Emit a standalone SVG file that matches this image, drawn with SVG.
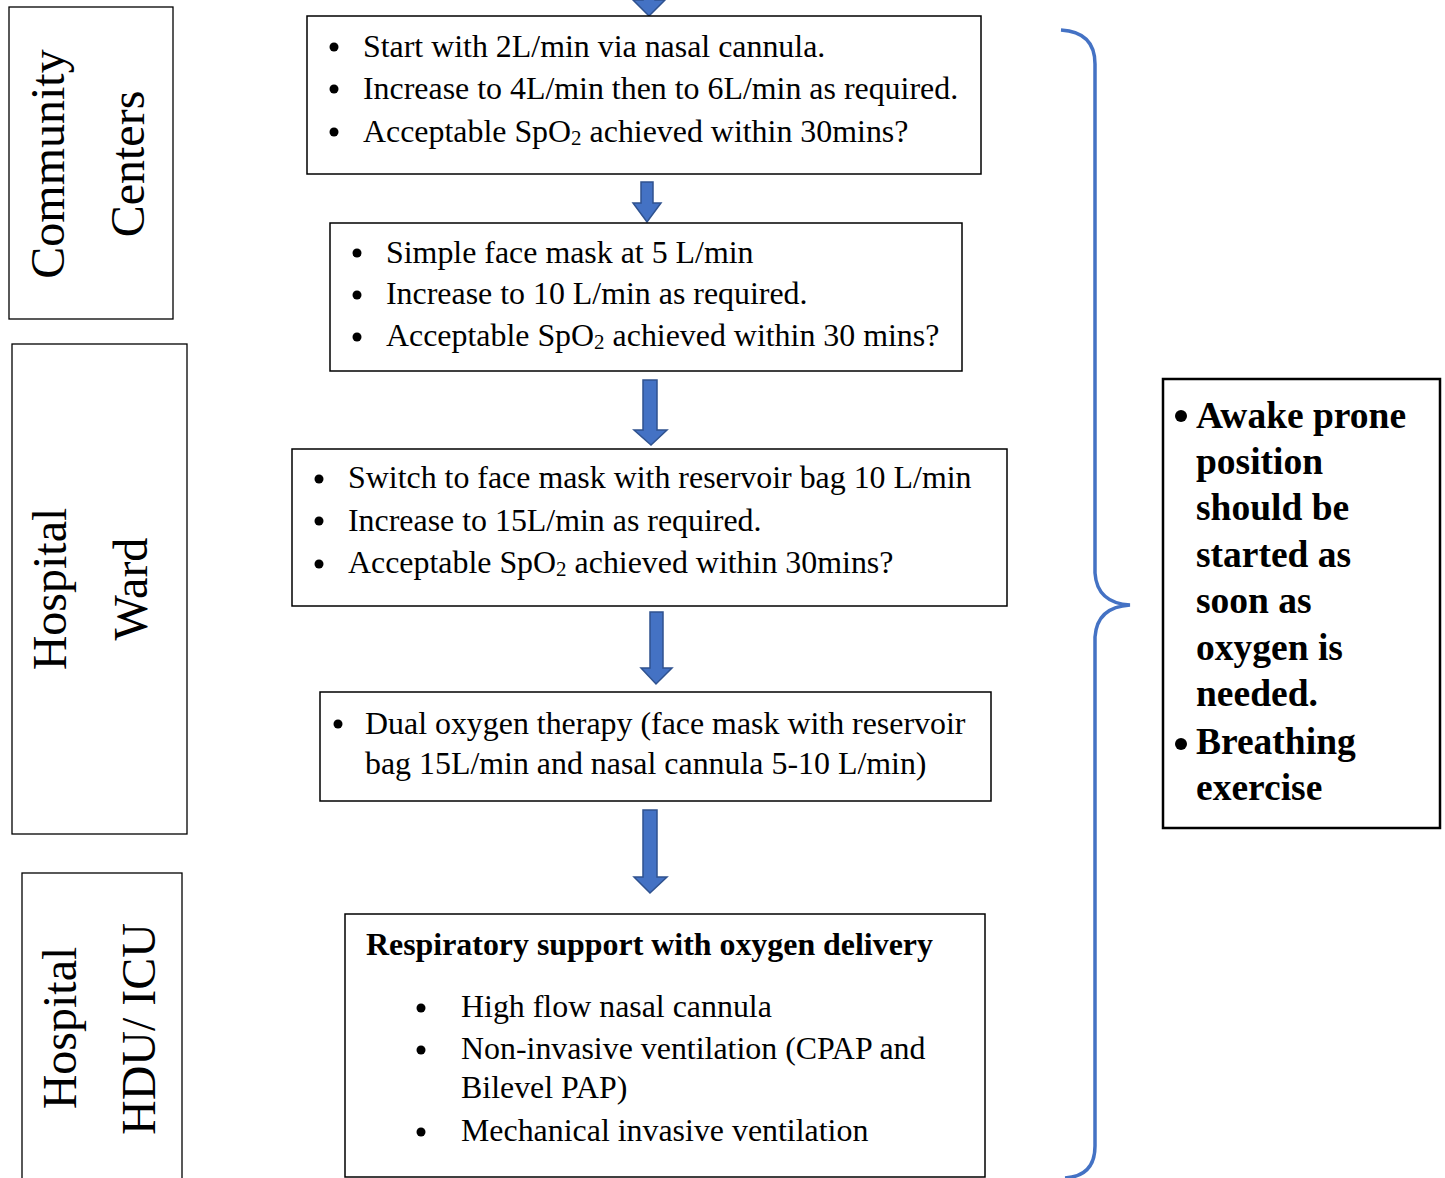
<svg xmlns="http://www.w3.org/2000/svg" width="1445" height="1178" viewBox="0 0 1445 1178">
<style>
.box{fill:#fff;stroke:#000;stroke-width:1.5}
.t{font-family:"Liberation Serif","Times New Roman",serif;font-size:31.9px;fill:#000}
.b{font-weight:bold}
.lab{font-family:"Liberation Serif","Times New Roman",serif;font-size:48px;fill:#000;text-anchor:middle}
.rt{font-family:"Liberation Serif","Times New Roman",serif;font-size:37.5px;font-weight:bold;fill:#000}
.arrow{fill:#4472C4;stroke:#2F528F;stroke-width:1.5}
.sub{font-size:21px}
</style>
<rect width="1445" height="1178" fill="#fff"/>

<g id="connectors">
  <polygon class="arrow" points="643,-20 655,-20 655,0 665,0 649,16 633,0 643,0"/>
  <polygon class="arrow" points="641,182 653,182 653,203 661,203 647,222 633,203 641,203"/>
  <polygon class="arrow" points="643,380 657,380 657,430 667,430 651,445 634,430 643,430"/>
  <polygon class="arrow" points="650,612 663,612 663,668 672,668 656,684 641,668 650,668"/>
  <polygon class="arrow" points="643,810 657,810 657,877 667,877 650,893 634,877 643,877"/>
  <path id="brace" d="M1061,30 Q1095,32 1095,64 L1095,573 Q1097,603 1130,605 Q1097,607 1095,637 L1095,1146 Q1095,1176 1065,1178" fill="none" stroke="#4472C4" stroke-width="3.5"/>
</g>

<g id="lane-community">
  <rect x="9" y="7" width="164" height="312" fill="#fff" stroke="#000" stroke-width="1.3"/>
  <text class="lab" transform="translate(64,164) rotate(-90)">Community</text>
  <text class="lab" transform="translate(144,164) rotate(-90)">Centers</text>
</g>

<g id="lane-ward">
  <rect x="12" y="344" width="175" height="490" fill="#fff" stroke="#000" stroke-width="1.3"/>
  <text class="lab" transform="translate(66,589) rotate(-90)">Hospital</text>
  <text class="lab" transform="translate(147,589) rotate(-90)">Ward</text>
</g>

<g id="lane-icu">
  <rect x="22" y="873" width="160" height="320" fill="#fff" stroke="#000" stroke-width="1.3"/>
  <text class="lab" transform="translate(76,1028) rotate(-90)">Hospital</text>
  <text class="lab" transform="translate(155,1029) rotate(-90)">HDU/ ICU</text>
</g>

<g id="step1">
  <rect class="box" x="307" y="16" width="674" height="158"/>
  <circle cx="334" cy="47" r="4.5"/><circle cx="334" cy="89" r="4.5"/><circle cx="334" cy="132" r="4.5"/>
  <text class="t" x="363" y="57">Start with 2L/min via nasal cannula.</text>
  <text class="t" x="363" y="99">Increase to 4L/min then to 6L/min as required.</text>
  <text class="t" x="363" y="142">Acceptable SpO<tspan class="sub" dy="3">2</tspan><tspan dy="-3"> achieved within 30mins?</tspan></text>
</g>

<g id="step2">
  <rect class="box" x="330" y="223" width="632" height="148"/>
  <circle cx="357" cy="253" r="4.5"/><circle cx="357" cy="295" r="4.5"/><circle cx="357" cy="337" r="4.5"/>
  <text class="t" x="386" y="263">Simple face mask at 5 L/min</text>
  <text class="t" x="386" y="304">Increase to 10 L/min as required.</text>
  <text class="t" x="386" y="346">Acceptable SpO<tspan class="sub" dy="3">2</tspan><tspan dy="-3"> achieved within 30 mins?</tspan></text>
</g>

<g id="step3">
  <rect class="box" x="292" y="449" width="715" height="157"/>
  <circle cx="319" cy="479" r="4.5"/><circle cx="319" cy="521" r="4.5"/><circle cx="319" cy="564" r="4.5"/>
  <text class="t" x="348" y="488">Switch to face mask with reservoir bag 10 L/min</text>
  <text class="t" x="348" y="531">Increase to 15L/min as required.</text>
  <text class="t" x="348" y="573">Acceptable SpO<tspan class="sub" dy="3">2</tspan><tspan dy="-3"> achieved within 30mins?</tspan></text>
</g>

<g id="step4">
  <rect class="box" x="320" y="692" width="671" height="109"/>
  <circle cx="338" cy="724" r="4.5"/>
  <text class="t" x="365" y="734">Dual oxygen therapy (face mask with reservoir</text>
  <text class="t" x="365" y="774">bag 15L/min and nasal cannula 5-10 L/min)</text>
</g>

<g id="step5">
  <rect class="box" x="345" y="914" width="640" height="263"/>
  <text class="t b" x="366" y="955">Respiratory support with oxygen delivery</text>
  <circle cx="421" cy="1008" r="4.5"/><circle cx="421" cy="1050" r="4.5"/><circle cx="421" cy="1132" r="4.5"/>
  <text class="t" x="461" y="1017">High flow nasal cannula</text>
  <text class="t" x="461" y="1059">Non-invasive ventilation (CPAP and</text>
  <text class="t" x="461" y="1098">Bilevel PAP)</text>
  <text class="t" x="461" y="1141">Mechanical invasive ventilation</text>
</g>

<g id="side-note">
  <rect x="1163" y="379" width="277" height="449" fill="#fff" stroke="#000" stroke-width="2.5"/>
  <circle cx="1181" cy="416" r="6"/><circle cx="1181" cy="744" r="6"/>
  <text class="rt" x="1196" y="428">Awake prone</text>
  <text class="rt" x="1196" y="474">position</text>
  <text class="rt" x="1196" y="520">should be</text>
  <text class="rt" x="1196" y="567">started as</text>
  <text class="rt" x="1196" y="613">soon as</text>
  <text class="rt" x="1196" y="660">oxygen is</text>
  <text class="rt" x="1196" y="706">needed.</text>
  <text class="rt" x="1196" y="754">Breathing</text>
  <text class="rt" x="1196" y="800">exercise</text>
</g>
</svg>
